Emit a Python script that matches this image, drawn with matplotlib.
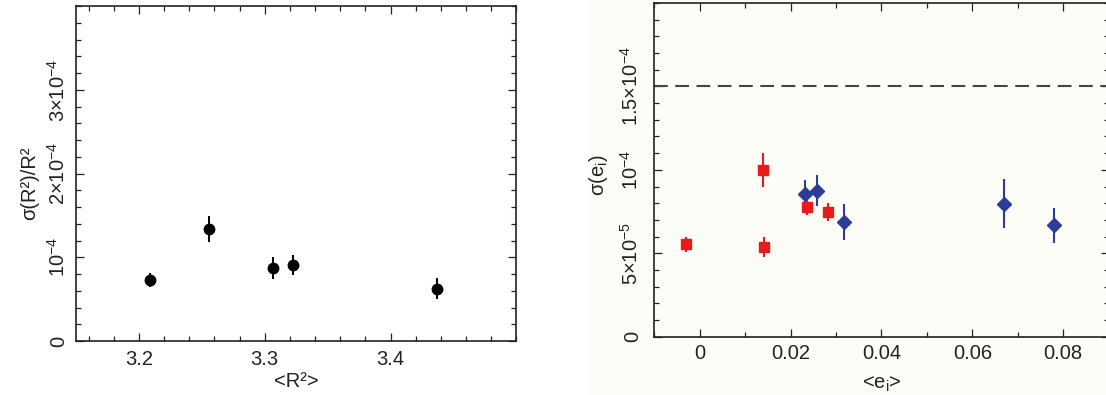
import matplotlib
matplotlib.use('Agg')
import matplotlib.pyplot as plt
from matplotlib.ticker import MultipleLocator
from matplotlib.patches import Rectangle

plt.rcParams['font.family'] = ['Liberation Sans', 'DejaVu Sans']
plt.rcParams['mathtext.fontset'] = 'custom'
plt.rcParams['mathtext.rm'] = 'Liberation Sans'
plt.rcParams['font.size'] = 14.5

# left panel: relative scatter of <R^2>
r2_mean = [3.2085, 3.2557, 3.3063, 3.3225, 3.437]
r2_sigma = [7.29e-5, 1.338e-4, 8.68e-5, 9.08e-5, 6.26e-5]
r2_sigma_err = [0.87e-5, 1.6e-5, 1.3e-5, 1.2e-5, 1.3e-5]

# right panel: scatter of <e_i>, two groups
e_red = [-0.0031, 0.0140, 0.0141, 0.0236, 0.0283]
sig_red = [5.55e-5, 1.0e-4, 5.37e-5, 7.77e-5, 7.48e-5]
err_red = [0.45e-5, 1.0e-5, 0.6e-5, 0.45e-5, 0.55e-5]

e_blue = [0.0231, 0.0258, 0.0318, 0.0670, 0.0779]
sig_blue = [8.55e-5, 8.75e-5, 6.9e-5, 7.98e-5, 6.68e-5]
err_blue = [0.82e-5, 0.92e-5, 1.08e-5, 1.45e-5, 1.05e-5]

sig_limit = 1.5e-4

r2_yticks = [0, 1e-4, 2e-4, 3e-4]
r2_ylabels = ['0', r'$\mathregular{10^{-4}}$', r'2×$\mathregular{10^{-4}}$', r'3×$\mathregular{10^{-4}}$']
e_yticks = [0, 5e-5, 1e-4, 1.5e-4]
e_ylabels = ['0', r'5×$\mathregular{10^{-5}}$', r'$\mathregular{10^{-4}}$', r'1.5×$\mathregular{10^{-4}}$']
e_xticks = [0, 0.02, 0.04, 0.06, 0.08]
e_xlabels = ['0', '0.02', '0.04', '0.06', '0.08']
r2_xticks = [3.2, 3.3, 3.4]
r2_xlabels = ['3.2', '3.3', '3.4']

cream = '#fdfdf8'


def style(ax, xpad, ypad):
    for s in ax.spines.values():
        s.set_linewidth(1.2)
        s.set_color('#222222')
    ax.tick_params(which='both', direction='in', top=True, right=True,
                   color='#222222', width=0.9, labelcolor='#222222')
    ax.tick_params(which='major', length=6)
    ax.tick_params(which='minor', length=3.5)
    ax.tick_params(axis='x', pad=xpad)
    ax.tick_params(axis='y', pad=ypad, labelrotation=90)
    for lab in ax.get_yticklabels():
        lab.set_va('center')


fig = plt.figure(figsize=(11.06, 3.95), dpi=100)
fig.add_artist(Rectangle((0.531, 0), 0.469, 1, transform=fig.transFigure,
                         facecolor=cream, edgecolor='none', zorder=-10))

ax1 = fig.add_axes([0.0687, 0.1367, 0.3982, 0.8476])
ax1.errorbar(r2_mean, r2_sigma, yerr=r2_sigma_err, fmt='o', color='black',
             ms=7.5, elinewidth=1.4, capsize=0)
ax1.set_xlim(3.15, 3.5)
ax1.set_ylim(0, 4e-4)
ax1.set_xticks(r2_xticks, labels=r2_xlabels)
ax1.set_yticks(r2_yticks, labels=r2_ylabels)
ax1.xaxis.set_minor_locator(MultipleLocator(0.02))
ax1.yaxis.set_minor_locator(MultipleLocator(2e-5))
style(ax1, 6.5, 5.5)
ax1.set_xlabel('<R²>', color='#222222')
ax1.set_ylabel('σ(R²)/R²', color='#222222')
ax1.xaxis.set_label_coords(0.5, -0.093)
ax1.yaxis.set_label_coords(-0.083, 0.47)

ax2 = fig.add_axes([0.5916, 0.1476, 0.4108, 0.8448])
ax2.set_facecolor(cream)
ax2.axhline(sig_limit, color='#444444', lw=1.5, dashes=(6.6, 3.6))
ax2.errorbar(e_blue, sig_blue, yerr=err_blue, fmt='D', color='#2b3d99',
             ms=6.8, elinewidth=1.5, capsize=0)
ax2.errorbar(e_red, sig_red, yerr=err_red, fmt='s', color='#e81a1a',
             ms=7.0, elinewidth=1.5, capsize=0)
ax2.set_xlim(-0.01, 0.09)
ax2.set_ylim(0, 2e-4)
ax2.set_xticks(e_xticks, labels=e_xlabels)
ax2.set_yticks(e_yticks, labels=e_ylabels)
ax2.xaxis.set_minor_locator(MultipleLocator(0.01))
ax2.yaxis.set_minor_locator(MultipleLocator(1e-5))
style(ax2, 5.5, 9)
ax2.set_xlabel(r'<$\mathregular{e_i}$>', color='#222222')
ax2.set_ylabel(r'σ($\mathregular{e_i}$)', color='#222222')
ax2.xaxis.set_label_coords(0.5, -0.115)
ax2.yaxis.set_label_coords(-0.098, 0.485)

fig.savefig('out.png', dpi=100)
